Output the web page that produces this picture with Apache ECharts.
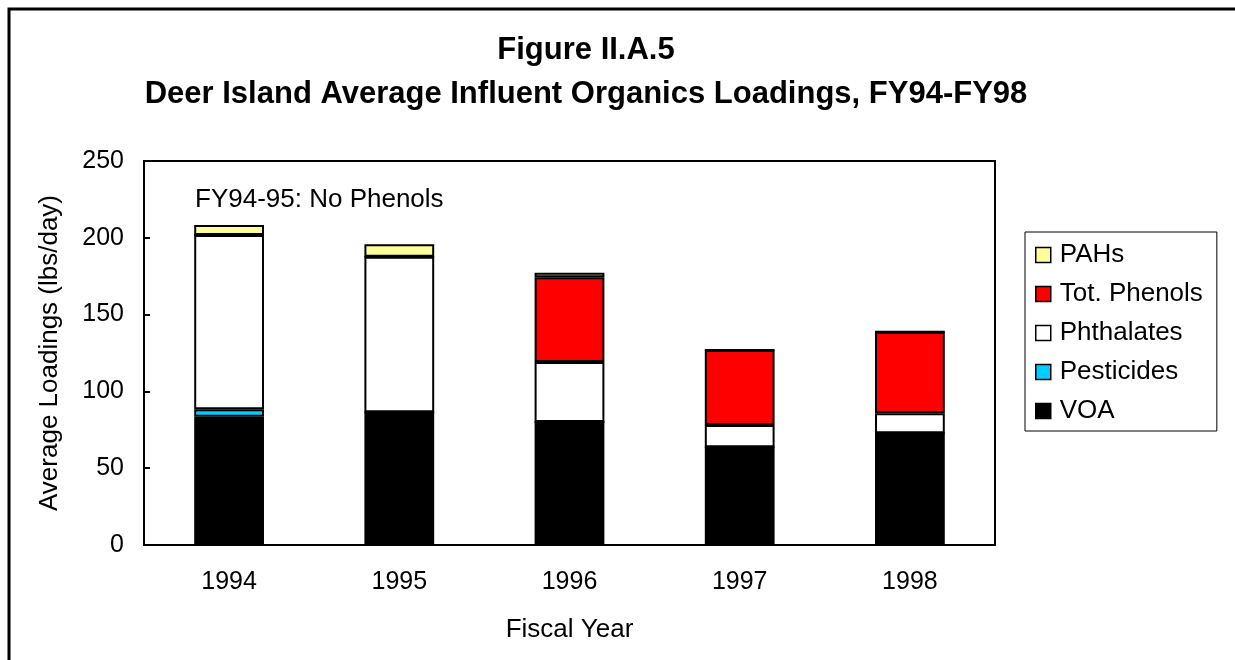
<!DOCTYPE html>
<html><head><meta charset="utf-8">
<script src="https://cdn.jsdelivr.net/npm/echarts@6/dist/echarts.min.js"></script>
<style>html,body{margin:0;padding:0;background:#fff}#c{width:1235px;height:660px}</style>
</head><body><div id="c"></div>
<script>
const categories = ['1994','1995','1996','1997','1998'];
const voa        = [83.5, 86.4, 80.1, 63.6, 72.7];
const pesticides = [4.8, 0, 0, 0, 0];
const phthalates = [113.5, 101.3, 39.0, 14.5, 13.0];
const phenols    = [0, 0, 55.2, 48.9, 53.2];
const pahs       = [6.5, 8.1, 3.0, 0, 0];
const yTicks = [0, 50, 100, 150, 200, 250];

const FONT = '"Liberation Sans", Arial, sans-serif';
const chart = echarts.init(document.getElementById('c'), null, {renderer:'canvas'});
function ser(name, data, color){
  return {name, type:'bar', stack:'t', data, barWidth:'41%',
    itemStyle:{color, borderColor:'#000', borderWidth:2}, emphasis:{disabled:true}};
}
chart.setOption({
  animation:false,
  textStyle:{fontFamily:FONT},
  title:{text:'Figure II.A.5\nDeer Island Average Influent Organics Loadings, FY94-FY98',
    left:581, textAlign:'center', top:23,
    textStyle:{fontFamily:FONT, fontSize:31, fontWeight:'bold', color:'#000', lineHeight:44}},
  grid:{left:144, right:240, top:161, bottom:115, show:true, borderColor:'#000', borderWidth:2, backgroundColor:'transparent'},
  legend:{orient:'vertical', left:1025, top:232,
    data:['PAHs','Tot. Phenols','Phthalates','Pesticides','VOA'],
    itemWidth:15, itemHeight:15, itemGap:13, padding:[10,14,7,10],
    borderColor:'#000', borderWidth:1, icon:'rect',
    textStyle:{fontFamily:FONT, fontSize:26, color:'#000', padding:[0,0,0,4]},
    itemStyle:{borderColor:'#000', borderWidth:1.5}},
  xAxis:{type:'category', data:categories, name:'Fiscal Year', nameLocation:'middle', nameGap:72,
    nameTextStyle:{fontFamily:FONT, fontSize:26, color:'#000'},
    axisLine:{lineStyle:{color:'#000', width:2}},
    axisTick:{inside:true, length:6, lineStyle:{color:'#000', width:2}},
    axisLabel:{fontFamily:FONT, fontSize:25, color:'#000', margin:25}},
  yAxis:{type:'value', min:0, max:250, interval:50, name:'Average Loadings (lbs/day)', nameLocation:'middle', nameGap:81,
    nameTextStyle:{fontFamily:FONT, fontSize:26, color:'#000'},
    axisLine:{show:true, lineStyle:{color:'#000', width:2}},
    axisTick:{show:true, inside:true, length:6, lineStyle:{color:'#000', width:2}},
    splitLine:{show:false},
    axisLabel:{fontFamily:FONT, fontSize:25, color:'#000', margin:20,
      formatter:v => yTicks.includes(v) ? String(v) : ''}},
  graphic:[
    {type:'rect', shape:{x:9, y:9, width:1300, height:700}, style:{fill:'none', stroke:'#000', lineWidth:3}, silent:true},
    {type:'text', left:195, top:187, style:{text:'FY94-95: No Phenols', fontFamily:FONT, fontSize:26, fill:'#000'}}
  ],
  series:[
    ser('VOA', voa, '#000000'),
    ser('Pesticides', pesticides, '#00ccff'),
    ser('Phthalates', phthalates, '#ffffff'),
    ser('Tot. Phenols', phenols, '#ff0000'),
    ser('PAHs', pahs, '#ffff99')
  ]
});
</script></body></html>
